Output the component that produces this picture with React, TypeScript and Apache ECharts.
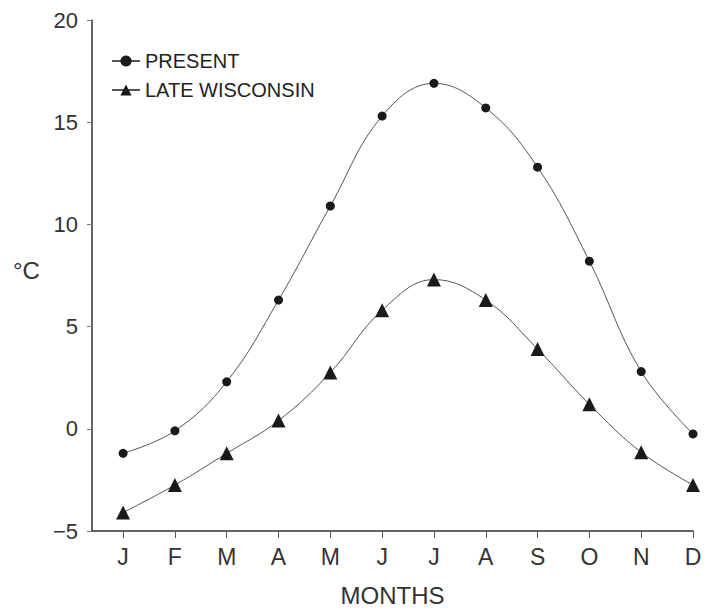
import React, { useEffect, useRef } from "react";
import * as echarts from "echarts";

const months = ["J", "F", "M", "A", "M", "J", "J", "A", "S", "O", "N", "D"];
const present = [-1.2, -0.1, 2.3, 6.3, 10.9, 15.3, 16.9, 15.7, 12.8, 8.2, 2.8, -0.25];
const lateWisconsin = [-4.1, -2.75, -1.2, 0.4, 2.75, 5.8, 7.3, 6.3, 3.9, 1.2, -1.15, -2.75];
const yTicks = [-5, 0, 5, 10, 15, 20];

const FONT = "Liberation Sans, Arial, Helvetica, sans-serif";

export default function App() {
  const ref = useRef<HTMLDivElement>(null);
  useEffect(() => {
    if (!ref.current) return;
    const chart = echarts.init(ref.current, null, { renderer: "svg" });
    const idx = months.map((_, i) => i);
    chart.setOption({
      animation: false,
      backgroundColor: "#ffffff",
      grid: { left: 92, right: 21, top: 20, bottom: 75 },
      legend: {
        orient: "vertical",
        left: 106,
        top: 46,
        itemWidth: 28,
        itemHeight: 14,
        itemGap: 9,
        textStyle: { fontFamily: FONT, fontSize: 20, color: "#222" },
        data: [{ name: "PRESENT" }, { name: "LATE WISCONSIN" }],
      },
      xAxis: {
        type: "value",
        min: -0.6,
        max: months.length - 1,
        splitLine: { show: false },
        axisLine: { show: true, onZero: false, lineStyle: { color: "#333", width: 1.5 } },
        axisTick: {
          show: true,
          length: 7,
          lineStyle: { color: "#555", width: 1 },
          customValues: idx,
        },
        axisLabel: {
          customValues: idx,
          formatter: (v: number) => months[Math.round(v)] ?? "",
          fontFamily: FONT,
          fontSize: 23,
          color: "#333",
          margin: 14,
        },
        name: "MONTHS",
        nameLocation: "middle",
        nameGap: 52,
        nameTextStyle: { fontFamily: FONT, fontSize: 24, color: "#333" },
      },
      yAxis: {
        type: "value",
        min: yTicks[0],
        max: yTicks[yTicks.length - 1],
        interval: 5,
        splitLine: { show: false },
        axisLine: { show: true, onZero: false, lineStyle: { color: "#333", width: 1.5 } },
        axisTick: { show: true, length: 5, lineStyle: { color: "#777", width: 1 } },
        axisLabel: {
          fontFamily: FONT,
          fontSize: 22,
          color: "#333",
          margin: 14,
          formatter: (v: number) => String(v).replace("-", "\u2212"),
        },
      },
      graphic: [
        {
          type: "text",
          left: 13,
          top: 258,
          style: { text: "°C", font: `24px ${FONT}`, fill: "#333" },
        },
      ],
      series: [
        {
          name: "PRESENT",
          type: "line",
          smooth: 0.4,
          data: present.map((v, i) => [i, v]),
          symbol: "circle",
          symbolSize: 9,
          itemStyle: { color: "#1a1a1a" },
          lineStyle: { color: "#555", width: 1 },
        },
        {
          name: "LATE WISCONSIN",
          type: "line",
          smooth: 0.4,
          data: lateWisconsin.map((v, i) => [i, v]),
          symbol: "triangle",
          symbolSize: 14,
          itemStyle: { color: "#1a1a1a" },
          lineStyle: { color: "#555", width: 1 },
        },
      ],
    });
    return () => chart.dispose();
  }, []);
  return <div ref={ref} style={{ width: 714, height: 612, position: "absolute", left: 0, top: 0 }} />;
}
